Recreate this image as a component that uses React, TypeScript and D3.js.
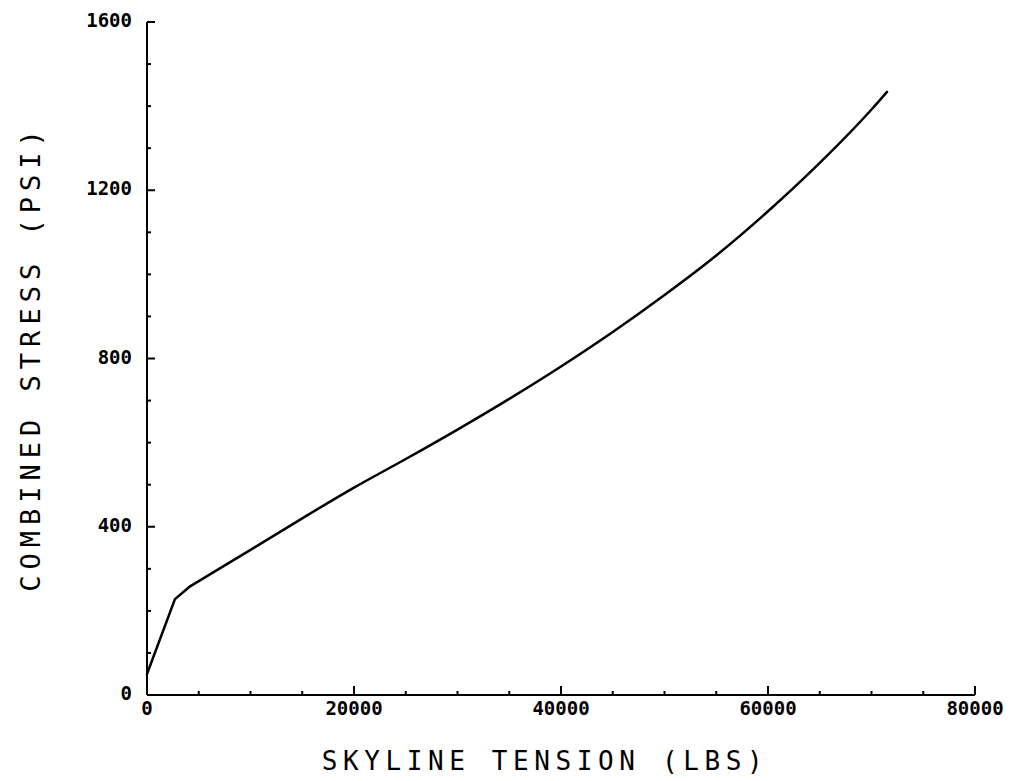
import React from "react";
import * as d3 from "d3";

const tensionLbs = [0, 2700, 4200, 10000, 15000, 20000, 25000, 30000, 35000, 40000, 45000, 50000, 55000, 60000, 65000, 70000, 71500];
const stressPsi = [50, 228, 259, 345, 420, 493, 561, 631, 704, 781, 863, 951, 1045, 1150, 1265, 1392, 1434];
const xTickLabels = [0, 20000, 40000, 60000, 80000];
const yTickLabels = [0, 400, 800, 1200, 1600];
const xMinorStep = 5000;
const yMinorStep = 100;

const W = 1013;
const H = 781;
const monoFont = "'DejaVu Sans Mono', monospace";

export default function App() {
  const x = d3.scaleLinear().domain([0, 80000]).range([147, 975]);
  const y = d3.scaleLinear().domain([0, 1600]).range([695, 22]);
  const data = tensionLbs.map((t, i) => [t, stressPsi[i]] as [number, number]);
  const lineLin = d3
    .line<[number, number]>()
    .x((d) => x(d[0]))
    .y((d) => y(d[1]));
  const lineSmooth = d3
    .line<[number, number]>()
    .x((d) => x(d[0]))
    .y((d) => y(d[1]))
    .curve(d3.curveMonotoneX);

  const xMinor = d3.range(0, 80000 + 1, xMinorStep);
  const yMinor = d3.range(0, 1600 + 1, yMinorStep);

  return (
    <svg
      width={W}
      height={H}
      style={{ position: "absolute", left: 0, top: 0, background: "#fff" }}
    >
      <rect x={0} y={0} width={W} height={H} fill="#fff" />
      {/* axes */}
      <line x1={x(0)} x2={x(80000)} y1={y(0)} y2={y(0)} stroke="#000" strokeWidth={2} />
      <line x1={x(0)} x2={x(0)} y1={y(0)} y2={y(1600)} stroke="#000" strokeWidth={2} />
      {/* x ticks */}
      {xMinor.map((v) => {
        const major = v % 20000 === 0;
        return (
          <line
            key={"xt" + v}
            x1={x(v)}
            x2={x(v)}
            y1={y(0)}
            y2={y(0) - (major ? 9 : 4)}
            stroke="#000"
            strokeWidth={2}
          />
        );
      })}
      {/* y ticks */}
      {yMinor.map((v) => {
        const major = v % 400 === 0;
        return (
          <line
            key={"yt" + v}
            x1={x(0)}
            x2={x(0) + (major ? 8 : 4)}
            y1={y(v)}
            y2={y(v)}
            stroke="#000"
            strokeWidth={2}
          />
        );
      })}
      {/* x tick labels */}
      {xTickLabels.map((v) => (
        <text
          key={"xl" + v}
          x={x(v)}
          y={y(0) + 13}
          textAnchor="middle"
          dominantBaseline="central"
          fontFamily={monoFont}
          fontWeight="bold"
          fontSize={19}
          fill="#000"
        >
          {v}
        </text>
      ))}
      {/* y tick labels */}
      {yTickLabels.map((v) => (
        <text
          key={"yl" + v}
          x={x(0) - 15}
          y={y(v) - 2}
          textAnchor="end"
          dominantBaseline="central"
          fontFamily={monoFont}
          fontWeight="bold"
          fontSize={19}
          fill="#000"
        >
          {v}
        </text>
      ))}
      {/* curve */}
      <path
        d={lineLin(data.slice(0, 3)) || ""}
        fill="none"
        stroke="#000"
        strokeWidth={2.5}
        strokeLinejoin="round"
        strokeLinecap="round"
      />
      <path
        d={lineSmooth(data.slice(2)) || ""}
        fill="none"
        stroke="#000"
        strokeWidth={2.5}
        strokeLinejoin="round"
        strokeLinecap="round"
      />
      {/* axis titles */}
      <text
        x={545}
        y={761}
        textAnchor="middle"
        dominantBaseline="central"
        fontFamily={monoFont}
        fontSize={26}
        letterSpacing={5.6}
        fill="#000"
      >
        SKYLINE TENSION (LBS)
      </text>
      <text
        transform="translate(30,358) rotate(-90)"
        textAnchor="middle"
        dominantBaseline="central"
        fontFamily={monoFont}
        fontSize={27}
        letterSpacing={6}
        fill="#000"
      >
        COMBINED STRESS (PSI)
      </text>
    </svg>
  );
}
